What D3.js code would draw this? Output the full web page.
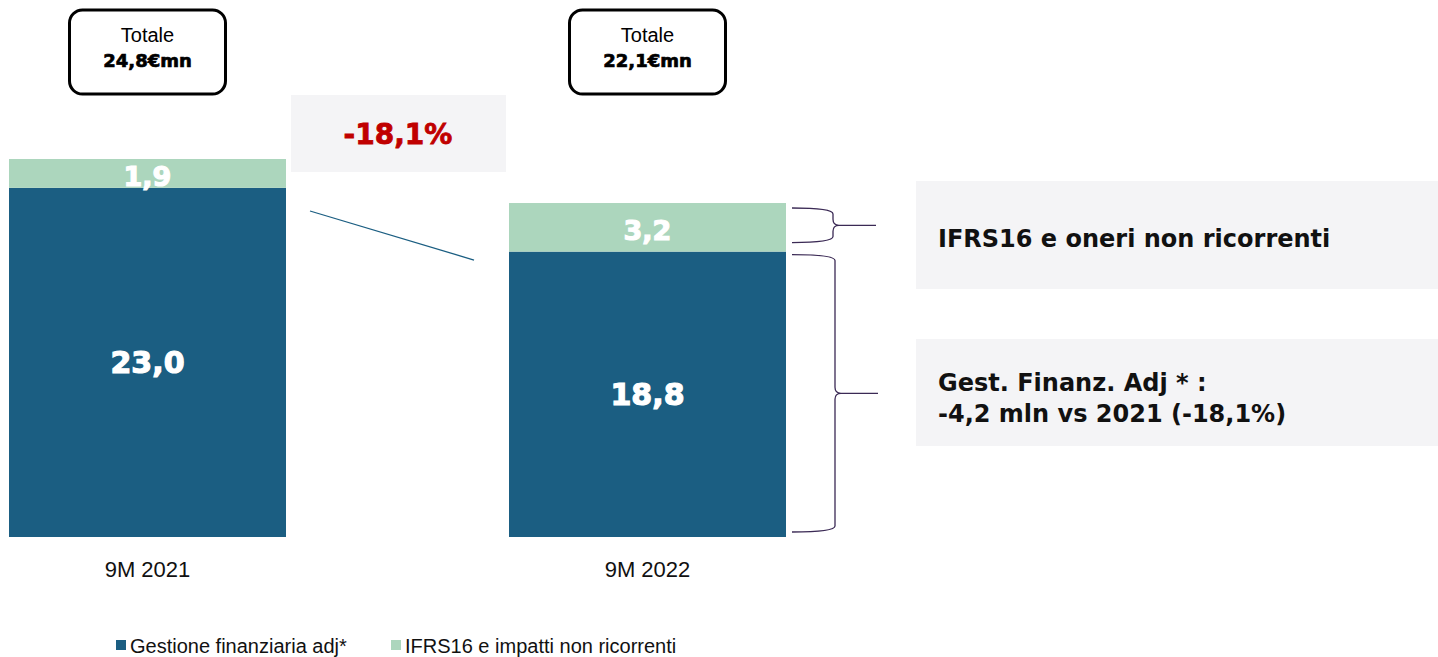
<!DOCTYPE html>
<html>
<head>
<meta charset="utf-8">
<script src="https://cdn.jsdelivr.net/npm/d3@7"></script>
<style>
  body { margin: 0; background: #fff; }
  text { font-family: "Liberation Sans", Arial, sans-serif; }
  .bold { font-family: "DejaVu Sans", sans-serif; font-weight: bold; }
  .note { font-family: "DejaVu Sans", sans-serif; font-weight: bold; }
</style>
</head>
<body>
<script>
var width = 1438,
    height = 657;

// data
var categories = ["9M 2021", "9M 2022"];
var gestione = [23.0, 18.8];       // Gestione finanziaria adj*
var ifrs = [1.9, 3.2];             // IFRS16 e impatti non ricorrenti
var totals = ["24,8€mn", "22,1€mn"];
var seriesNames = ["Gestione finanziaria adj*", "IFRS16 e impatti non ricorrenti"];
var changeLabel = "-18,1%";
var noteIfrs = ["IFRS16 e oneri non ricorrenti"];
var noteGest = ["Gest. Finanz. Adj * :", "-4,2 mln vs 2021 (-18,1%)"];

var colors = ["#1b5e82", "#acd6bd"];
var fmt = function(v) { return d3.format(".1f")(v).replace(".", ","); };

var svg = d3.select("body").append("svg")
    .attr("width", width)
    .attr("height", height);

var x = d3.scaleBand()
    .domain(categories)
    .range([9, 786])
    .paddingInner(0.446)
    .paddingOuter(0);

var y = d3.scaleLinear()
    .domain([0, 24.9])
    .range([537, 159]);

var rows = categories.map(function(c, i) {
  return {cat: c, gest: gestione[i], ifrs: ifrs[i], total: totals[i]};
});

// bars
var bars = svg.selectAll("g.bar")
    .data(rows)
  .enter().append("g")
    .attr("class", "bar");

bars.append("rect")
    .attr("x", function(d) { return x(d.cat); })
    .attr("width", x.bandwidth())
    .attr("y", function(d) { return y(d.gest); })
    .attr("height", function(d) { return y(0) - y(d.gest); })
    .style("fill", colors[0]);

bars.append("rect")
    .attr("x", function(d) { return x(d.cat); })
    .attr("width", x.bandwidth())
    .attr("y", function(d) { return y(d.gest + d.ifrs); })
    .attr("height", function(d) { return y(d.gest) - y(d.gest + d.ifrs); })
    .style("fill", colors[1]);

bars.append("text")
    .attr("class", "bold")
    .attr("x", function(d) { return x(d.cat) + x.bandwidth() / 2; })
    .attr("y", function(d) { return (y(0) + y(d.gest)) / 2 + 11; })
    .attr("text-anchor", "middle")
    .style("font-size", "30px")
    .style("fill", "#fff")
    .style("stroke", "#fff")
    .style("stroke-width", 1.2)
    .text(function(d) { return fmt(d.gest); });

bars.append("text")
    .attr("class", "bold")
    .attr("x", function(d) { return x(d.cat) + x.bandwidth() / 2; })
    .attr("y", function(d) { return (y(d.gest) + y(d.gest + d.ifrs)) / 2 + 13; })
    .attr("text-anchor", "middle")
    .style("font-size", "27px")
    .style("fill", "#fff")
    .style("stroke", "#fff")
    .style("stroke-width", 1.2)
    .text(function(d) { return fmt(d.ifrs); });

// category labels
bars.append("text")
    .attr("x", function(d) { return x(d.cat) + x.bandwidth() / 2; })
    .attr("y", 577)
    .attr("text-anchor", "middle")
    .style("font-size", "22px")
    .style("fill", "#111")
    .text(function(d) { return d.cat; });

// totale boxes
var tot = svg.selectAll("g.tot")
    .data(rows)
  .enter().append("g")
    .attr("class", "tot")
    .attr("transform", function(d) { return "translate(" + (x(d.cat) + x.bandwidth() / 2) + ",0)"; });

tot.append("rect")
    .attr("x", -78)
    .attr("y", 10)
    .attr("width", 156)
    .attr("height", 84)
    .attr("rx", 13)
    .style("fill", "#fff")
    .style("stroke", "#000")
    .style("stroke-width", 3);

tot.append("text")
    .attr("y", 42)
    .attr("text-anchor", "middle")
    .style("font-size", "20px")
    .text("Totale");

tot.append("text")
    .attr("class", "bold")
    .attr("y", 67)
    .attr("text-anchor", "middle")
    .style("font-size", "18px")
    .style("stroke", "#000")
    .style("stroke-width", 0.7)
    .text(function(d) { return d.total; });

// change box
svg.append("rect")
    .attr("x", 291).attr("y", 95)
    .attr("width", 215).attr("height", 77)
    .style("fill", "#f4f4f6");

svg.append("text")
    .attr("class", "bold")
    .attr("x", 398).attr("y", 144)
    .attr("text-anchor", "middle")
    .style("font-size", "28px")
    .style("fill", "#c00000")
    .style("stroke", "#c00000")
    .style("stroke-width", 0.8)
    .text(changeLabel);

// trend line between bars
var x1 = x(categories[0]) + x.bandwidth() + 24,
    x2 = x(categories[1]) - 35;
svg.append("line")
    .attr("x1", x1).attr("y1", y(gestione[0] + ifrs[0]) + 52)
    .attr("x2", x2).attr("y2", y(gestione[1] + ifrs[1]) + 57)
    .style("stroke", colors[0])
    .style("stroke-width", 1.3);

// braces
function brace(x0, yTop, yBot, xArm, xTip) {
  var ym = (yTop + yBot) / 2, r = 6;
  return "M" + x0 + "," + yTop +
    " Q" + xArm + "," + yTop + " " + xArm + "," + (yTop + r) +
    " L" + xArm + "," + (ym - r) +
    " Q" + xArm + "," + ym + " " + (xArm + r) + "," + ym +
    " L" + xTip + "," + ym +
    " M" + (xArm + r) + "," + ym +
    " Q" + xArm + "," + ym + " " + xArm + "," + (ym + r) +
    " L" + xArm + "," + (yBot - r) +
    " Q" + xArm + "," + yBot + " " + x0 + "," + yBot;
}

var bx = x(categories[1]) + x.bandwidth() + 6;
svg.append("path")
    .attr("d", brace(bx, y(gestione[1] + ifrs[1]) + 5, y(gestione[1]) - 9, bx + 41, bx + 84))
    .style("fill", "none")
    .style("stroke", "#3b2a55")
    .style("stroke-width", 1.3);

svg.append("path")
    .attr("d", brace(bx, y(gestione[1]) + 3, y(0) - 5, bx + 43, bx + 86))
    .style("fill", "none")
    .style("stroke", "#3b2a55")
    .style("stroke-width", 1.3);

// note boxes
svg.append("rect")
    .attr("x", 916).attr("y", 181)
    .attr("width", 522).attr("height", 108)
    .style("fill", "#f4f4f6");

svg.append("rect")
    .attr("x", 916).attr("y", 339)
    .attr("width", 522).attr("height", 107)
    .style("fill", "#f4f4f6");

svg.append("g").selectAll("text")
    .data(noteIfrs)
  .enter().append("text")
    .attr("class", "note")
    .attr("x", 938)
    .attr("y", function(d, i) { return 247 + i * 31; })
    .style("font-size", "24px")
    .style("fill", "#111")
    .text(function(d) { return d; });

svg.append("g").selectAll("text")
    .data(noteGest)
  .enter().append("text")
    .attr("class", "note")
    .attr("x", 938)
    .attr("y", function(d, i) { return 391 + i * 31; })
    .style("font-size", "24px")
    .style("fill", "#111")
    .text(function(d) { return d; });

// legend
var legendX = [116, 391];
var legend = svg.selectAll("g.legend")
    .data(seriesNames)
  .enter().append("g")
    .attr("class", "legend")
    .attr("transform", function(d, i) { return "translate(" + legendX[i] + ",640)"; });

legend.append("rect")
    .attr("width", 10).attr("height", 10)
    .style("fill", function(d, i) { return colors[i]; });

legend.append("text")
    .attr("x", 14).attr("y", 13)
    .style("font-size", "20px")
    .style("fill", "#111")
    .text(function(d) { return d; });
</script>
</body>
</html>
